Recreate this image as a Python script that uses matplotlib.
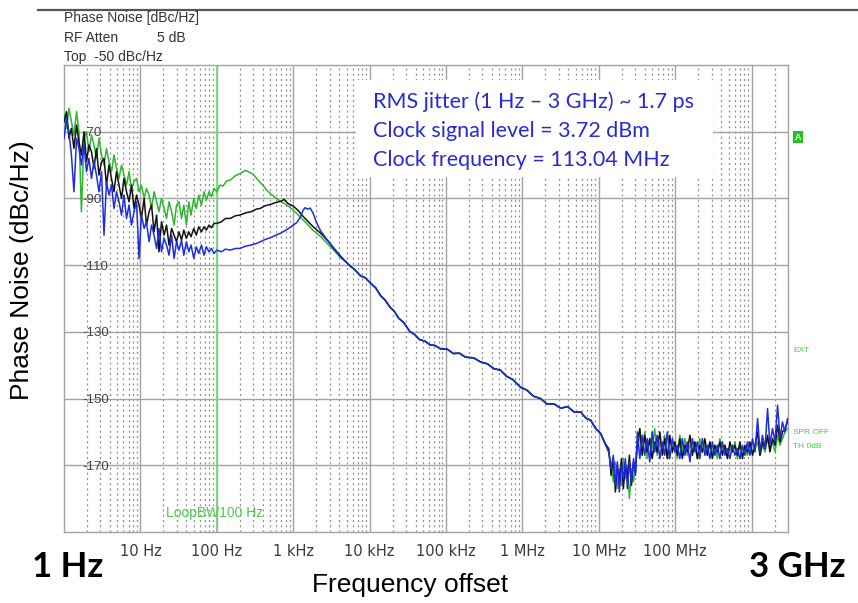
import numpy as np
import matplotlib
matplotlib.use("Agg")
import matplotlib.pyplot as plt
from matplotlib.patches import Rectangle
from matplotlib.lines import Line2D
from matplotlib.ticker import LogLocator, NullFormatter

W, H = 858, 603

# --- frequency grids (Hz) ---
LOW_F = [1.00, 1.08, 1.16, 1.25, 1.35, 1.46, 1.57, 1.69, 1.83, 1.97,
         2.12, 2.29, 2.47, 2.66, 2.87, 3.10, 3.34, 3.60, 3.88, 4.19,
         4.51, 4.87, 5.25, 5.66, 6.10, 6.58, 7.10, 7.65, 8.25, 8.90,
         9.60, 10.3, 11.2, 12.0, 13.0, 14.0, 15.1, 16.3, 17.5, 18.9,
         20.4, 22.0, 23.7, 25.6, 27.6, 29.7]

COMMON_F = [4.8e3, 5.6e3, 6.5e3, 7.6e3, 8.8e3, 10.2e3, 12e3, 14e3, 16e3, 18.5e3,
            21e3, 24e3, 28e3, 33.6e3, 39e3, 45e3, 53e3, 62e3, 72e3, 85e3,
            104e3, 125e3, 150e3, 180e3, 230e3, 283e3, 350e3, 420e3, 518e3, 620e3,
            750e3, 947e3, 1.15e6, 1.4e6, 1.73e6, 2.1e6, 2.6e6, 3.17e6, 3.9e6, 4.8e6,
            5.8e6, 6.8e6, 7.84e6, 9.0e6, 10.6e6, 12e6]
COMMON_DB = [-108.8, -110.3, -111.5, -113.2, -113.8, -115.3, -116.8, -119.2, -120.5, -122.6,
             -123.8, -125.9, -127.2, -129.9, -130.8, -132.3, -132.8, -133.9, -134.1, -135.1,
             -135.2, -136.5, -136.4, -137.6, -137.8, -139.0, -139.6, -141.0, -141.5, -143.3,
             -144.3, -146.6, -147.5, -149.3, -150.0, -151.6, -151.6, -152.9, -152.4, -154.1,
             -154.0, -155.9, -156.5, -158.8, -160.5, -163.3]

NOTCH_F = [13.5e6, 14.5e6, 15.5e6, 16.5e6, 17.5e6, 18.6e6, 19.8e6, 21e6, 22.3e6, 23.7e6,
           25.2e6, 26.8e6, 28.5e6, 30.3e6]

HIGH_F = [32e6, 34.5e6, 37e6, 40e6, 43e6, 46.5e6, 50e6, 54e6, 58e6, 63e6,
          68e6, 73e6, 79e6, 85e6, 92e6, 99e6, 107e6, 115e6, 124e6, 134e6,
          144e6, 156e6, 168e6, 181e6, 195e6, 210e6, 227e6, 245e6, 264e6, 285e6,
          307e6, 331e6, 357e6, 385e6, 415e6, 448e6, 483e6, 521e6, 562e6, 606e6,
          653e6, 704e6, 760e6, 819e6, 883e6, 953e6, 1.03e9, 1.11e9, 1.20e9, 1.29e9,
          1.39e9, 1.50e9, 1.62e9, 1.74e9, 1.88e9, 2.03e9, 2.19e9, 2.36e9, 2.54e9, 2.74e9,
          2.95e9]

# --- green trace (dBc/Hz) ---
GREEN_LOW = [-65, -69, -63, -67, -71, -64, -70, -94, -72, -70,
             -76, -71, -74, -78, -72, -77, -80, -75, -79, -82,
             -77, -81, -84, -80, -83, -86, -82, -87, -85, -84,
             -88, -86, -90, -87, -89, -93, -88, -91, -94, -90,
             -93, -96, -91, -94, -98, -92]
GREEN_MID_F = [32, 34.5, 37, 40, 43, 46, 50, 54, 58, 63,
               68, 73, 79, 85, 92, 100, 110, 120, 135, 150,
               175, 200, 236, 270, 300, 350, 400, 450, 500, 600,
               700, 850, 1000, 1250, 1500, 1830, 2300, 2780, 3400, 4180]
GREEN_MID = [-91, -96, -92, -98, -91, -95, -90, -93, -89, -92,
             -88, -90.5, -88, -89.5, -87, -88, -86, -86.3, -84.7, -84.5,
             -83.2, -82.6, -81.6, -82.2, -82.8, -84.6, -86, -87.5, -88.5, -90,
             -91, -92.2, -93.5, -95.7, -97.5, -99.6, -101.5, -103.5, -105.5, -107.8]
GREEN_NOTCH = [-166, -170, -175, -169, -177, -171, -176, -168, -174, -170,
               -180, -171, -175, -169]
GREEN_HIGH = [-165, -161, -166, -160, -168, -162, -165, -159, -167, -163,
              -166, -161, -168, -162, -165, -163, -168, -161, -166, -162,
              -167, -164, -165, -163, -168, -162, -166, -164, -167, -163,
              -166, -164, -168, -162, -166, -164, -167, -165, -166, -163,
              -168, -164, -166, -165, -167, -164, -166, -165, -163, -167,
              -164, -166, -162, -165, -163, -166, -161, -164, -162, -160,
              -159]

# --- black trace ---
BLACK_LOW = [-67, -64, -72, -69, -75, -68, -73, -77, -70, -79,
             -74, -76, -81, -75, -83, -79, -78, -86, -80, -84,
             -88, -82, -86, -90, -84, -88, -91, -86, -93, -89,
             -92, -96, -90, -98, -94, -92, -100, -95, -106, -97,
             -101, -98, -104, -99, -101, -103]
BLACK_MID_F = [32, 34.5, 37, 40, 43, 46, 50, 54, 58, 63,
               68, 73, 79, 85, 92, 100, 115, 130, 150, 175,
               200, 240, 280, 330, 370, 430, 500, 600, 700, 760,
               850, 1000, 1150, 1300, 1500, 1830, 2300, 2780, 3400, 4180]
BLACK_MID = [-100, -102.5, -99.5, -102, -100, -101.5, -99, -101, -98.5, -100,
             -98.5, -99.5, -98, -98.8, -97.5, -97.5, -97, -96, -96, -95.2,
             -95, -94.3, -94, -93.2, -93, -92.2, -91.8, -91.2, -90.8, -90.3,
             -91.5, -92.3, -93.5, -95, -96.5, -98.5, -100.5, -102.5, -105, -107.5]
BLACK_NOTCH = [-165, -173, -168, -178, -170, -175, -168, -177, -170, -174,
               -167, -176, -169, -172]
BLACK_HIGH = [-163, -159, -167, -161, -166, -162, -168, -163, -166, -160,
              -167, -162, -168, -161, -166, -163, -167, -162, -168, -164,
              -166, -161, -167, -163, -168, -164, -166, -162, -167, -163,
              -168, -164, -166, -163, -167, -164, -168, -163, -166, -164,
              -167, -163, -168, -164, -166, -163, -167, -164, -160, -167,
              -163, -165, -161, -166, -162, -164, -158, -163, -160, -159,
              -157]

# --- blue trace ---
BLUE_LOW = [-72, -66, -70, -77, -88, -72, -75, -80, -74, -82,
            -78, -84, -79, -83, -88, -82, -101, -85, -89, -86,
            -93, -88, -91, -95, -89, -96, -92, -98, -94, -91,
            -108, -95, -99, -97, -103, -98, -101, -105, -99, -106,
            -102, -104, -107, -101, -108, -103]
BLUE_MID_F = [32, 34.5, 37, 40, 43, 46, 50, 54, 58, 63,
              68, 73, 79, 85, 92, 100, 115, 130, 150, 175,
              200, 240, 280, 330, 370, 430, 500, 600, 700, 800,
              900, 1000, 1120, 1250, 1350, 1430, 1550, 1670, 1830, 2000,
              2270, 2700, 3360, 4180]
BLUE_MID = [-105.5, -102.5, -107, -103, -106, -104, -108, -104.5, -106.5, -104,
            -107, -104.5, -106, -105, -106.5, -105.5, -106, -105.2, -105.5, -105,
            -105, -104.3, -104, -103.5, -103, -102.3, -101.8, -101, -100.3, -99.5,
            -98.8, -98, -97.2, -95.5, -93.5, -92.8, -93.2, -92.9, -94.5, -97,
            -99.6, -102, -104.7, -107.3]
BLUE_NOTCH = [-166, -171, -167, -176, -169, -178, -170, -174, -168, -177,
              -169, -175, -168, -173]
BLUE_HIGH = [-160, -168, -161, -167, -162, -169, -160, -166, -161, -168,
             -163, -167, -160, -168, -162, -166, -164, -168, -162, -167,
             -163, -169, -162, -166, -163, -168, -162, -167, -164, -168,
             -163, -167, -164, -168, -163, -167, -165, -168, -164, -167,
             -165, -168, -164, -167, -163, -167, -162, -166, -156, -166,
             -161, -165, -153, -164, -159, -163, -152, -162, -157, -160,
             -156]

# --- axes text ---
Y_TICKS = [-70, -90, -110, -130, -150, -170]
X_TICKS = [10, 100, 1e3, 1e4, 1e5, 1e6, 1e7, 1e8, 1e9]
X_LABELS = ["10 Hz", "100 Hz", "1 kHz", "10 kHz", "100 kHz", "1 MHz", "10 MHz", "100 MHz", ""]
LOOP_BW = 100
INFO_LINES = ["RMS jitter (1 Hz \u2013 3 GHz) ~ 1.7 ps",
              "Clock signal level = 3.72 dBm",
              "Clock frequency = 113.04 MHz"]


def px(x, y):
    return x / W, 1 - y / H


fig = plt.figure(figsize=(W / 100, H / 100), dpi=100)
ax = fig.add_axes([64 / W, 1 - 532 / H, (788 - 64) / W, (532 - 65) / H])
ax.set_xscale("log")
ax.set_xlim(1, 3e9)
ax.set_ylim(-190, -50)

grid_c = "#a3a3a3"
for s in ax.spines.values():
    s.set_color(grid_c)
    s.set_linewidth(1.0)

ax.set_xticks(X_TICKS)
ax.set_xticklabels(X_LABELS, family="Liberation Sans Narrow", fontsize=10.5, color="#3a3a3a")
ax.xaxis.set_minor_locator(LogLocator(base=10, subs=np.arange(2, 10), numticks=30))
ax.xaxis.set_minor_formatter(NullFormatter())
ax.set_yticks(Y_TICKS)
ax.set_yticklabels([str(v) for v in Y_TICKS], family="Liberation Sans", fontsize=9.5, color="#444444")
for lbl in ax.get_yticklabels():
    lbl.set_ha("left")
ax.tick_params(axis="x", which="both", length=0, pad=9)
ax.tick_params(axis="y", length=0, pad=-13)
ax.grid(True, which="major", axis="both", color=grid_c, lw=1.0)
ax.grid(True, which="minor", axis="x", color="#8f8f8f", lw=0.9, ls=(0, (1.6, 2.6)))
ax.set_axisbelow(True)

ax.axvline(LOOP_BW, color="#6fdc6f", lw=1.3, zorder=1.5)

green_f = LOW_F + GREEN_MID_F + COMMON_F + NOTCH_F + HIGH_F
green_db = GREEN_LOW + GREEN_MID + COMMON_DB + GREEN_NOTCH + GREEN_HIGH
black_f = LOW_F + BLACK_MID_F + COMMON_F + NOTCH_F + HIGH_F
black_db = BLACK_LOW + BLACK_MID + COMMON_DB + BLACK_NOTCH + BLACK_HIGH
blue_f = LOW_F + BLUE_MID_F + COMMON_F + NOTCH_F + HIGH_F
blue_db = BLUE_LOW + BLUE_MID + COMMON_DB + BLUE_NOTCH + BLUE_HIGH

ax.plot(green_f, green_db, color="#2fb52f", lw=1.1, zorder=3)
ax.plot(black_f, black_db, color="#121212", lw=1.1, zorder=4)
ax.plot(blue_f, blue_db, color="#1f2de0", lw=1.1, zorder=5)

# header texts of the analyzer screen
fig.add_artist(Line2D([38 / W, 1.0], [1 - 10 / H] * 2, color="#555555", lw=1.6))
hdr = dict(family="Liberation Sans", fontsize=10, color="#333333", va="center")
fig.text(*px(64, 18), "Phase Noise [dBc/Hz]", **hdr)
fig.text(*px(64, 38), "RF Atten", **hdr)
fig.text(*px(157, 38), "5 dB", **hdr)
fig.text(*px(64, 57), "Top  -50 dBc/Hz", **hdr)

# info box
x0, y0 = px(356, 177)
x1, y1 = px(713, 80)
fig.add_artist(Rectangle((x0, y0), x1 - x0, y1 - y0, transform=fig.transFigure,
                         facecolor="white", edgecolor="none", zorder=5))
for line, yy in zip(INFO_LINES, [102, 131, 160]):
    fig.text(*px(373, yy), line, family="Lato", fontsize=15.5, color="#2a2ad2",
             va="center", ha="left", zorder=6)

# right-hand status labels
st = dict(family="Liberation Sans", fontsize=6, color="#3fcf3f", va="center", ha="left")
fig.text(*px(795, 137), "A", family="Liberation Sans", fontsize=6.5, color="white",
         weight="bold", va="center", ha="left",
         bbox=dict(facecolor="#22c322", edgecolor="none", pad=1.2))
fig.text(*px(793, 350), "EXT", **st)
fig.text(*px(793, 433), "SPR OFF", **st)
fig.text(*px(793, 447), "TH 0dB", **st)
fig.text(*px(215, 513), "LoopBW100 Hz", family="Liberation Sans", fontsize=10,
         color="#4ccc4c", ha="center", va="center")

# outer labels
fig.text(*px(68, 567), "1 Hz", family="Lato", weight="bold", fontsize=25,
         ha="center", va="center")
fig.text(*px(797, 567), "3 GHz", family="Lato", weight="bold", fontsize=25,
         ha="center", va="center")
fig.text(*px(410, 585), "Frequency offset", family="Liberation Sans", fontsize=19,
         ha="center", va="center")
fig.text(*px(22, 270), "Phase Noise (dBc/Hz)", family="Liberation Sans", fontsize=19,
         rotation=90, ha="center", va="center")

fig.savefig("out.png", dpi=100, facecolor="white")
